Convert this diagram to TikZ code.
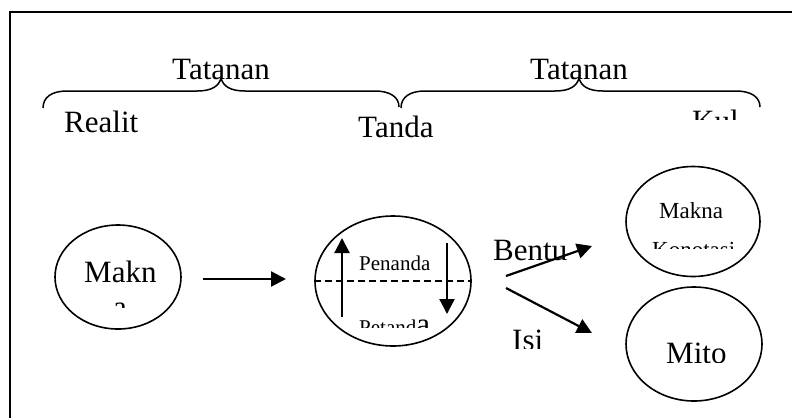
\documentclass[tikz,border=0pt]{standalone}
\usepackage{fontspec}
\setmainfont{Liberation Serif}
\usetikzlibrary{shapes.geometric,arrows.meta}

\tikzset{
  oval/.style={draw, ellipse, line width=1.6pt, inner sep=0pt},
  arr/.style={line width=2.2pt, -{Triangle[length=15pt,width=15pt]}},
  brace/.style={line width=1.5pt},
  big/.style={font=\fontsize{31}{36}\selectfont, inner sep=0pt, anchor=base west},
  mid/.style={font=\fontsize{23}{27}\selectfont, inner sep=0pt, anchor=base west},
  small/.style={font=\fontsize{21}{25}\selectfont, inner sep=0pt, anchor=base west},
}

\begin{document}
\begin{tikzpicture}[x=1pt, y=-1pt]
\useasboundingbox (0,0) rectangle (794,418);

% outer frame (open to the right and bottom)
\draw[line width=2pt] (10,418) -- (10,12) -- (792,12);

% headings and braces
\node[big] (tat1) at (172,79) {Tatanan};
\node[big] (tat2) at (530,79) {Tatanan};

\draw[brace] (43,108) .. controls (43,97) and (52,91) .. (67,91)
  -- (197,91) .. controls (212,91) and (219,86) .. (221,78)
  .. controls (223,86) and (230,91) .. (245,91)
  -- (375,91) .. controls (390,91) and (399,97) .. (399,107);
\draw[brace] (401,108) .. controls (401,97) and (410,91) .. (425,91)
  -- (555,91) .. controls (570,91) and (577,86) .. (579,78)
  .. controls (581,86) and (588,91) .. (603,91)
  -- (736,91) .. controls (751,91) and (760,97) .. (760,107);

\node[big] (realit) at (64,132) {Realit};
\node[big] (tanda) at (358,137) {Tanda};
\begin{scope}
  \clip (640,95) rectangle (760,119);
  \node[big] (kul) at (692,131.5) {Kul};
\end{scope}

% first-order sign: makna
\node[oval, minimum width=126pt, minimum height=104pt] (makna) at (118,277) {};
\node[big] (makntxt) at (84,282) {Makn};
\begin{scope}
  \clip (60,290) rectangle (180,307);
  \node[big] (maknb) at (113,317) {a};
\end{scope}

% sign: penanda / petanda
\node[oval, minimum width=156pt, minimum height=130pt] (tanda2) at (393,281) {};
\draw[line width=1.5pt, dash pattern=on 7pt off 4pt] (tanda2.west) -- (tanda2.east);
\coordinate (upA) at (342,317);
\coordinate (upB) at (342,238);
\coordinate (dnA) at (447,243);
\coordinate (dnB) at (447,314);
\draw[arr] (upA) -- (upB);
\draw[arr] (dnA) -- (dnB);
\node[small] (penanda) at (359,270) {Penanda};
\begin{scope}
  \clip (345,300) rectangle (445,327);
  \node[small] (petanda) at (359,334) {Petand\fontsize{31}{36}\selectfont a};
\end{scope}

\coordinate (a1) at (203,279);
\coordinate (a2) at (286,279);
\draw[arr] (a1) -- (a2);

% second order: bentuk / isi
\coordinate (b0) at (506,276);
\coordinate (b1) at (592,246);
\coordinate (i0) at (506,288);
\coordinate (i1) at (592,333);
\node[big] (bentu) at (493,260) {Bentu};
\draw[arr] (b0) -- (b1);
\draw[arr] (i0) -- (i1);
\begin{scope}
  \clip (490,320) rectangle (560,348);
  \node[big] (isi) at (512,350.5) {Isi};
\end{scope}

% makna konotasi and mito
\node[oval, minimum width=134pt, minimum height=110pt] (konot) at (693,221.5) {};
\node[mid] (makna2) at (659,218) {Makna};
\begin{scope}
  \clip (640,225) rectangle (750,248);
  \node[mid] (konotasi) at (652,257) {Konotasi};
\end{scope}

\node[oval, minimum width=136pt, minimum height=114pt] (mito) at (694,344) {};
\begin{scope}
  \clip (640,320) rectangle (750,362);
  \node[big] (mitotxt) at (666,363.5) {Mito};
\end{scope}
\end{tikzpicture}
\end{document}
